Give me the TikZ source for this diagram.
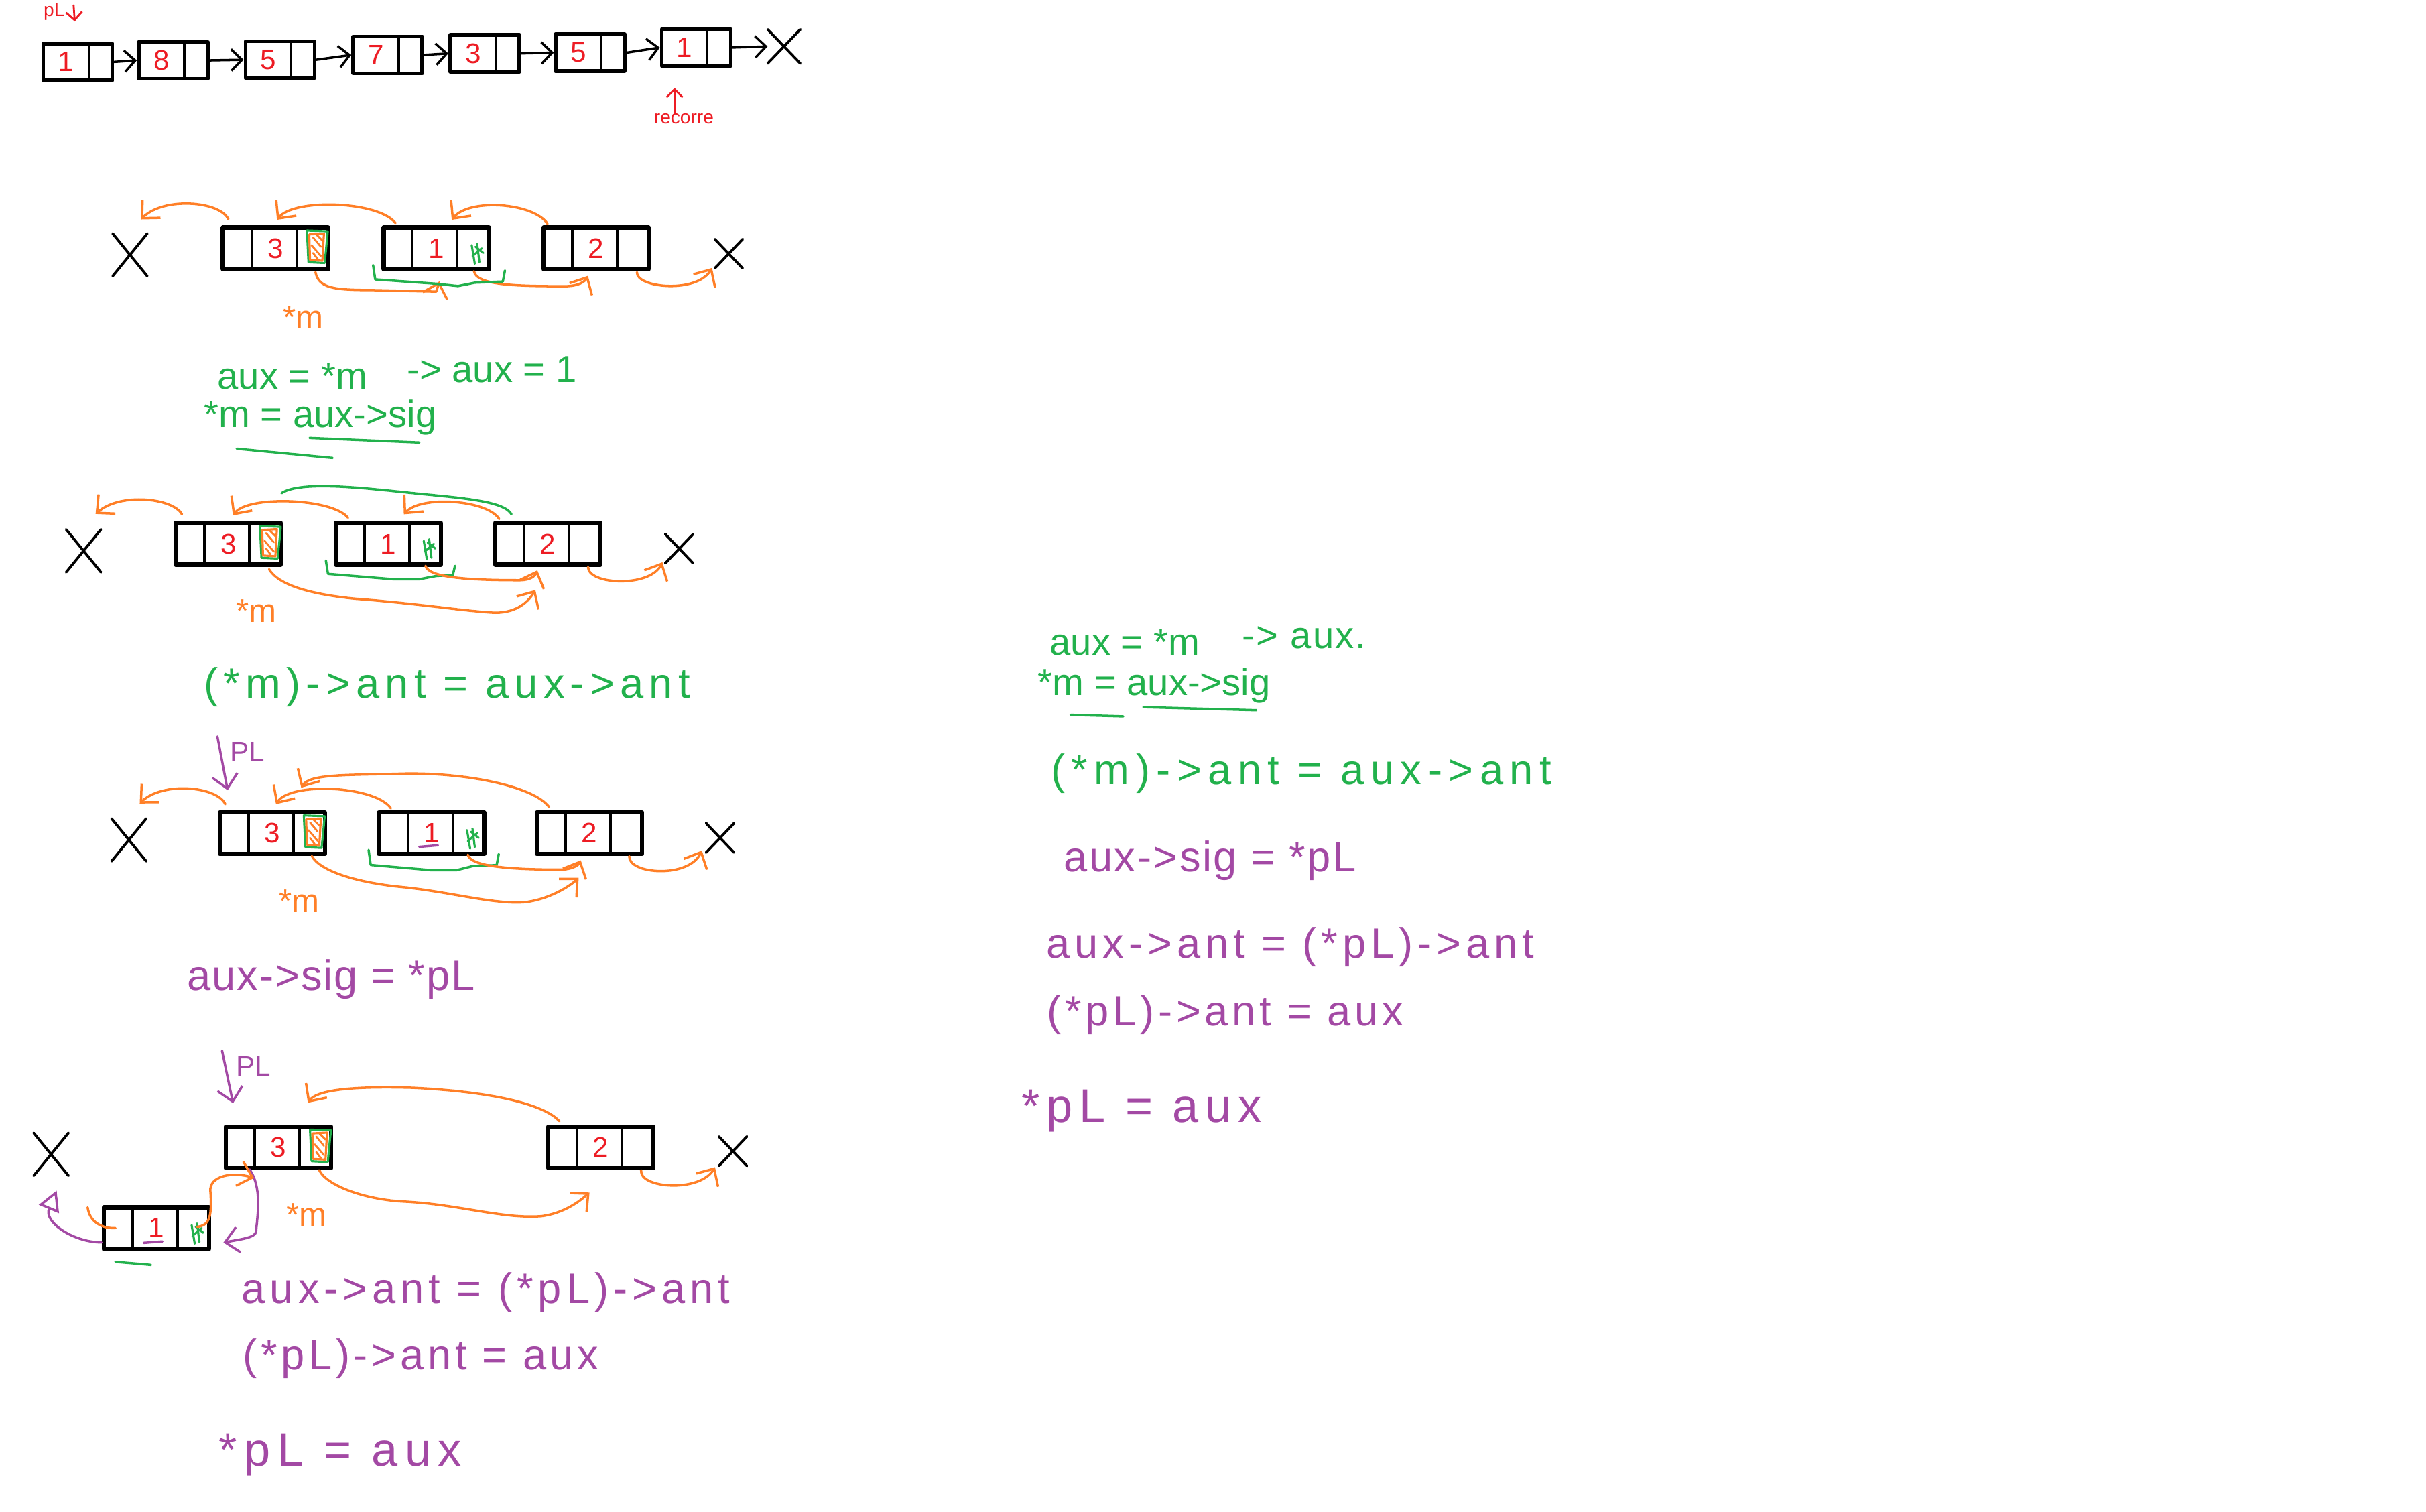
\documentclass[tikz,border=0pt]{standalone}
\usepackage{fontspec}
\setmainfont{Liberation Sans}
\usetikzlibrary{arrows.meta, shapes.misc}
\definecolor{naranja}{RGB}{255,127,39}
\definecolor{verde}{RGB}{34,177,76}
\definecolor{rojo}{RGB}{237,28,36}
\definecolor{morado}{RGB}{163,73,164}
\newcommand\celda[1]{\makebox[0.68cm]{#1}\hspace*{0.35cm}}
\tikzset{
  tachado/.pic={
    \draw[verde, line width=0.9pt] (-15,-11.5) -- (-1.5,-11) -- (-3.5,9.5) -- (-14,9) -- cycle;
    \draw[naranja, line width=0.9pt] (-13.5,-9) -- (-4,-9.5) -- (-5,8) -- (-13,7.5) -- cycle;
    \draw[naranja, line width=0.8pt] (-11,-7) -- (-6,-1) (-12,-2) -- (-6,5) (-9,-9) -- (-5,-5) (-11,3) -- (-8,7);
  },
  marca/.pic={
    \draw[verde, line width=0.9pt] (-12.5,-2) -- (-10.5,10) (-9,-3) -- (-7.5,9) (-12,5) -- (-6,0) (-10,-1) -- (-5,3);
  }
}

\begin{document}
\begin{tikzpicture}[x=0.02309cm, y=-0.02309cm, line cap=round, line join=round,
    nodo/.style={draw, line width=1.8pt, minimum width=1.57cm, minimum height=0.62cm,
                 inner sep=0pt, text=rojo, font=\fontsize{12}{14}\selectfont,
                 path picture={
                   \draw[line width=1.1pt] ([xshift=0.43cm]path picture bounding box.north west) -- ([xshift=0.43cm]path picture bounding box.south west);
                   \draw[line width=1.1pt] ([xshift=1.1cm]path picture bounding box.north west) -- ([xshift=1.1cm]path picture bounding box.south west);}},
    nodo2/.style={draw, line width=1.6pt, minimum width=1.03cm, minimum height=0.55cm,
                 inner sep=0pt, text=rojo, font=\fontsize{12}{14}\selectfont,
                 path picture={
                   \draw[line width=1pt] ([xshift=0.68cm]path picture bounding box.north west) -- ([xshift=0.68cm]path picture bounding box.south west);}},
    cruz/.style={cross out, draw, line width=1.1pt, minimum width=0.48cm, minimum height=0.6cm, inner sep=0pt},
    cruzc/.style={cruz, minimum width=0.38cm, minimum height=0.4cm},
    cruzt/.style={cruz, minimum width=0.45cm, minimum height=0.47cm},
    fneg/.style={-{Straight Barb[length=1.6mm,width=3.2mm]}, line width=1pt, black},
    fnar/.style={-{Straight Barb[length=2mm,width=3.8mm]}, line width=1pt, naranja},
    fmor/.style={-{Straight Barb[length=2mm,width=3.8mm]}, line width=1pt, morado},
    fmort/.style={-{Triangle[open,length=3mm,width=3.2mm]}, line width=1pt, morado},
    frojo/.style={-{Straight Barb[length=1.2mm,width=2.4mm]}, line width=0.8pt, rojo},
    tver/.style={line width=1pt, verde},
    tnar/.style={line width=1pt, naranja},
    tmor/.style={line width=1pt, morado},
    pnm/.style={text=naranja, font=\fontsize{14}{16}\selectfont, inner sep=0pt},
    etiq/.style={text=morado, font=\fontsize{12}{14}\selectfont, inner sep=0pt},
    rotulo/.style={text=rojo, font=\fontsize{8}{10}\selectfont, inner sep=0pt},
    nota/.style={font={\fontsize{16}{19}\selectfont\addfontfeature{LetterSpace=#1}}, inner sep=0pt},
    nota/.default=0,
    notag/.style={font={\fontsize{18}{21}\selectfont\addfontfeature{LetterSpace=#1}}, inner sep=0pt},
    notag/.default=0,
    notax/.style={font={\fontsize{20}{24}\selectfont\addfontfeature{LetterSpace=#1}}, inner sep=0pt},
    notax/.default=0
]
    \useasboundingbox (0,0) rectangle (1568,977);

    % lista original
    \node[nodo2] (t1) at (50.3,40) {\celda{1}};
    \node[nodo2] (t2) at (112,39) {\celda{8}};
    \node[nodo2] (t3) at (181,38.6) {\celda{5}};
    \node[nodo2] (t4) at (250.6,35.5) {\celda{7}};
    \node[nodo2] (t5) at (313.3,34.5) {\celda{3}};
    \node[nodo2] (t6) at (381.5,34) {\celda{5}};
    \node[nodo2] (t7) at (450,30.7) {\celda{1}};
    \node[cruzt] (tx) at (506.7,30) {};
    \foreach \a/\b in {t1/t2,t2/t3,t3/t4,t4/t5,t5/t6,t6/t7,t7/tx}
        \draw[fneg] (\a.east) -- (\b.west);
    \node[rotulo] (pl0) at (35,7.5) {pL};
    \draw[frojo] ([shift={(5.5,-4)}]pl0.east) -- ([shift={(-2,-13)}]t1.north);
    \node[rotulo] (rec) at (442,76.6) {recorre};
    \draw[frojo] ([shift={(-6,0)}]rec.north) -- ([shift={(-14,13)}]t7.south);

    % paso 1
    \node[cruz] (x1i) at (84,164.7) {};
    \node[nodo] (a1) at (178,160.5) {3};
    \node[nodo] (b1) at (282,160.5) {1};
    \node[nodo] (c1) at (385.3,160.5) {2};
    \node[cruzc] (x1d) at (471,164) {};
    \pic at (a1.east) {tachado};
    \pic at (b1.east) {marca};
    \draw[fnar] ([shift={(5,-4)}]a1.north west) .. controls (142,130) and (106,127) .. ([shift={(7,-9)}]x1i.north);
    \draw[fnar] ([shift={(9,-1.5)}]b1.north west) .. controls (245,130) and (190,128) .. ([shift={(1,-3.6)}]a1.north);
    \draw[fnar] ([shift={(4,-1)}]c1.north west) .. controls (345,131) and (303,128) .. ([shift={(10,-3.6)}]b1.north);
    \draw[fnar] ([shift={(-9.5,0.6)}]a1.south east) .. controls (206,186) and (215,187.5) .. (240,187.5) -- (282,188.5) -- ([shift={(2,6.6)}]b1.south);
    \draw[fnar] ([shift={(-11,0)}]b1.south east) .. controls (308,184) and (330,185) .. (365,185) .. controls (374,185) and (378,182) .. ([shift={(-5.3,3)}]c1.south);
    \draw[fnar] ([shift={(-9,0.6)}]c1.south east) .. controls (411,186) and (450,190) .. ([shift={(-1.7,-0.3)}]x1d.south west);
    \draw[tver] ([shift={(-5.5,-4)}]b1.south west) -- (242.5,180.6) -- (282,183.4) -- (296,184.9) -- (307,182.7) -- (325,182) -- ([shift={(9,-0.5)}]b1.south east);
    \node[pnm] (m1) at (196,205) {*m};
    \node[nota, text=verde] (g1) at (189,243) {aux = *m};
    \node[nota, text=verde] (g1b) at (318,239) {-> aux = 1};
    \node[nota, text=verde] (g2) at (207,270) {*m = aux->sig};
    \draw[tver] (200,283) -- (271,286);
    \draw[tver] (153,290) -- (215,296);

    % paso 2
    \node[cruz] (x2i) at (54,356) {};
    \node[nodo] (a2) at (147.6,351.5) {3};
    \node[nodo] (b2) at (251,351.5) {1};
    \node[nodo] (c2) at (354,351.5) {2};
    \node[cruzc] (x2d) at (439,354.6) {};
    \pic at (a2.east) {tachado};
    \pic at (b2.east) {marca};
    \draw[fnar] ([shift={(5.4,-4.3)}]a2.north west) .. controls (112,322) and (78,318) .. ([shift={(7.8,-10)}]x2i.north);
    \draw[fnar] ([shift={(9.3,-2.1)}]b2.north west) .. controls (215,322) and (160,320) .. ([shift={(3,-3.6)}]a2.north);
    \draw[fnar] ([shift={(4,-1.3)}]c2.north west) .. controls (315,323) and (272,320) .. ([shift={(10,-4.3)}]b2.north);
    \draw[tver] ([shift={(12,-4.3)}]c2.north west) .. controls (326,324) and (300,322) .. (270,319) .. controls (240,316) and (195,310) .. ([shift={(-1,-18)}]a2.north east);
    \draw[tver] ([shift={(-5,-4)}]b2.south west) -- (212,370.9) -- (254.4,374.4) -- (270.8,374.4) -- (281.8,372.3) -- (292.7,371.6) -- ([shift={(7.7,-0.6)}]b2.south east);
    \draw[fnar] ([shift={(-11.4,-0.6)}]b2.south east) .. controls (277,373) and (300,375) .. (336,375) .. controls (343,375) and (346,372) .. ([shift={(-6.7,2.3)}]c2.south);
    \draw[fnar] ([shift={(-9.3,0.1)}]c2.south east) .. controls (380,378) and (420,380) .. ([shift={(-1.8,-0.7)}]x2d.south west);
    \draw[fnar] ([shift={(-9.1,1.6)}]a2.south east) .. controls (180,378) and (200,384) .. (230,387) .. controls (270,390) and (300,395) .. (320,396) .. controls (335,396) and (342,388) .. ([shift={(-8,15)}]c2.south);
    \node[pnm] (m2) at (165.5,395) {*m};
    \node[notag=13, text=verde] (g3) at (289,444) {(*m)->ant = aux->ant};

    % paso 3
    \node[cruz] (x3i) at (83.3,542.8) {};
    \node[nodo] (a3) at (176,538.5) {3};
    \node[nodo] (b3) at (279,538.5) {1};
    \node[nodo] (c3) at (381,538.5) {2};
    \node[cruzc] (x3d) at (465.4,541.5) {};
    \pic at (a3.east) {tachado};
    \pic at (b3.east) {marca};
    \node[etiq] (pl3) at (160,486) {PL};
    \draw[fmor] ([shift={(-8,-10)}]pl3.west) -- ([shift={(6.5,-13)}]a3.north west);
    \draw[fnar] ([shift={(5,-4)}]a3.north west) .. controls (140,508) and (105,505) .. ([shift={(7,-9.7)}]x3i.north);
    \draw[fnar] ([shift={(9,-1.3)}]b3.north west) .. controls (243,508) and (188,505) .. ([shift={(2.4,-4)}]a3.north);
    \draw[fnar] ([shift={(9.4,-2)}]c3.north west) .. controls (345,508) and (300,499) .. (260,500) .. controls (225,501) and (200,500) .. ([shift={(18.7,-14.6)}]a3.north);
    \draw[tver] ([shift={(-5.4,-4)}]b3.south west) -- (239.6,559) -- (279,562.4) -- (295,562.4) -- (306,559.6) -- (321,559.1) -- ([shift={(8,-1.4)}]b3.south east);
    \draw[fnar] ([shift={(-12,-0.9)}]b3.south east) .. controls (304,560) and (330,562) .. (362,562) .. controls (370,562) and (374,559) .. ([shift={(-5.6,2.7)}]c3.south);
    \draw[fnar] ([shift={(-9.8,0)}]a3.south east) .. controls (207,563) and (230,570) .. (257,573) .. controls (290,576) and (320,585) .. (340,583) .. controls (355,581) and (368,573) .. ([shift={(-7,14)}]c3.south);
    \draw[fnar] ([shift={(-9.7,0)}]c3.south east) .. controls (406,565) and (445,568) .. ([shift={(-2.7,-1.3)}]x3d.south west);
    \draw[tmor] ([shift={(-8,-6)}]b3.south) -- ([shift={(4,-7)}]b3.south);
    \node[pnm] (m3) at (193.4,582.5) {*m};
    \node[notag=3, text=morado] (p4) at (214,633) {aux->sig = *pL};

    % paso 4
    \node[cruz] (x4i) at (33,746) {};
    \node[nodo] (a4) at (180,741.5) {3};
    \node[nodo] (c4) at (388.4,741.5) {2};
    \node[nodo] (b4) at (101,793.7) {1};
    \node[cruzc] (x4d) at (473.7,744) {};
    \pic at (a4.east) {tachado};
    \pic at (b4.east) {marca};
    \node[etiq] (pl4) at (164,689) {PL};
    \draw[fmor] ([shift={(-9,-10)}]pl4.west) -- ([shift={(6,-13.7)}]a4.north west);
    \draw[fnar] ([shift={(8.6,-2.1)}]c4.north west) .. controls (350,712) and (310,705) .. (266,703) .. controls (230,702) and (205,704) .. ([shift={(19,-14)}]a4.north);
    \draw[fnar] ([shift={(-9,0)}]a4.south east) .. controls (211,766) and (235,775) .. (260,776.5) .. controls (295,778) and (325,788) .. (350,786) .. controls (365,784) and (375,776) .. ([shift={(-7.4,14.4)}]c4.south);
    \draw[fnar] ([shift={(-9.4,0)}]c4.south east) .. controls (413,768) and (452,771) .. ([shift={(-2.5,0.8)}]x4d.south west);
    \draw[fmort] ([shift={(0,9.2)}]b4.west) .. controls (48,803) and (28,790) .. ([shift={(3.6,9.6)}]x4i.south);
    \draw[fmor] ([shift={(16.6,-0.6)}]a4.south west) .. controls (170,768) and (166,788) .. (165.5,796) .. controls (165,800) and (155,801) .. ([shift={(8,9.3)}]b4.east);
    \draw[fnar] ([shift={(-9,-0.8)}]b4.east) .. controls (136,792) and (137,785) .. (136,770) .. controls (135,760) and (150,757) .. ([shift={(19.6,5)}]a4.south west);
    \draw[tnar] ([shift={(-9,1.4)}]b4.north west) .. controls (58,790) and (66,794) .. ([shift={(9,0)}]b4.west);
    \draw[tmor] ([shift={(-8.2,-5.3)}]b4.south) -- ([shift={(4,-6.2)}]b4.south);
    \draw[tver] ([shift={(9,7)}]b4.south west) -- ([shift={(32,9)}]b4.south west);
    \node[pnm] (m4) at (198,785) {*m};
    \node[notag=11, text=morado] (p5) at (314,835) {aux->ant = (*pL)->ant};
    \node[notag=9, text=morado] (p6) at (272,878) {(*pL)->ant = aux};
    \node[notax=15, text=morado] (p7) at (220,940) {*pL = aux};

    % resumen
    \node[nota, text=verde] (r1) at (727,415) {aux = *m};
    \node[nota=4, text=verde] (r1b) at (843,412) {-> aux.};
    \node[nota, text=verde] (r2) at (746,443) {*m = aux->sig};
    \draw[tver] (739,457) -- (812,459);
    \draw[tver] (692,462) -- (726,463);
    \node[notag=15, text=verde] (r3) at (841,500) {(*m)->ant = aux->ant};
    \node[notag=4, text=morado] (r4) at (782,556) {aux->sig = *pL};
    \node[notag=11, text=morado] (r5) at (834,612) {aux->ant = (*pL)->ant};
    \node[notag=9, text=morado] (r6) at (792,656) {(*pL)->ant = aux};
    \node[notax=14, text=morado] (r7) at (738,718) {*pL = aux};
\end{tikzpicture}
\end{document}
